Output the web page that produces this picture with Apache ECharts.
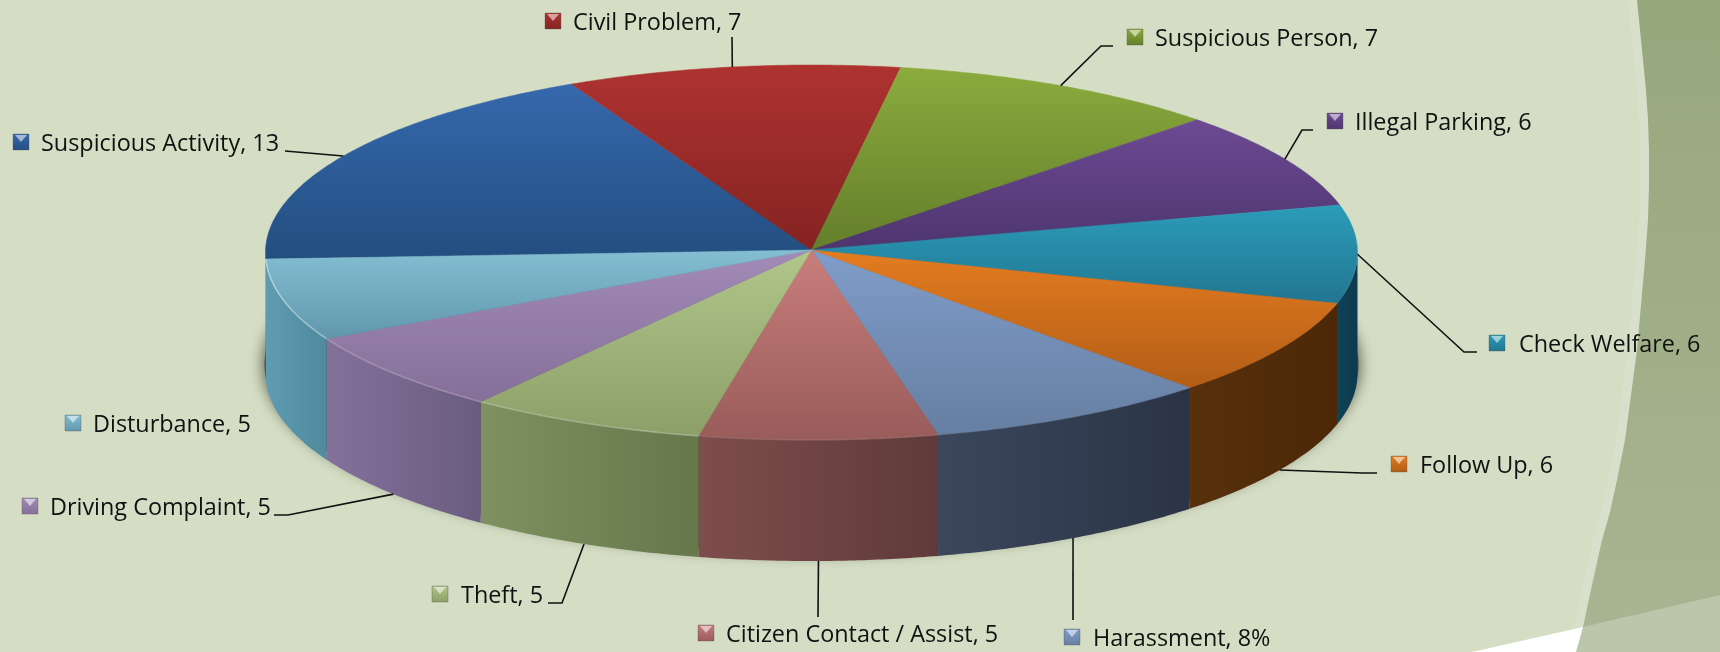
<!DOCTYPE html>
<html>
<head>
<meta charset="utf-8">
<title>Calls by type</title>
<script src="https://cdn.jsdelivr.net/npm/echarts@6/dist/echarts.min.js"></script>
<style>
  html, body { margin: 0; padding: 0; background: #d5dec5; }
  #chart { width: 1720px; height: 652px; }
</style>
</head>
<body>
<div id="chart"></div>
<script>
// data, clockwise from the left edge of the pie
const names = ['Suspicious Activity', 'Civil Problem', 'Suspicious Person', 'Illegal Parking', 'Check Welfare', 'Follow Up', 'Harassment', 'Citizen Contact / Assist', 'Theft', 'Driving Complaint', 'Disturbance']
const values = [13, 7, 7, 6, 6, 6, 6, 5, 5, 5, 5]
const valueLabels = ['13', '7', '7', '6', '6', '6', '8%', '5', '5', '5', '5']

// colours per slice
const topLight = ['#3568ad', '#ae3331', '#8bab3d', '#6d4a93', '#2b9cba', '#e47c20', '#809dca', '#c97d7b', '#b0c68a', '#a28bb6', '#84bed3']
const topDark = ['#234e80', '#842321', '#647e2b', '#4d356f', '#227690', '#b25d16', '#667ea1', '#985c5a', '#8c9f68', '#85709a', '#6197ad']
const sideLight = ['#2d5a8c', '#7a2422', '#5a7324', '#46306a', '#0f4258', '#58300c', '#3b475c', '#7e4d4d', '#7f9160', '#84719a', '#5f9cb2']
const sideDark = ['#2d5a8c', '#7a2422', '#5a7324', '#46306a', '#0e3a4d', '#4c2807', '#2b3446', '#603a3a', '#66784a', '#6a5c80', '#4f8a9e']
const rimAlpha = [0, 0, 0, 0, 0, 0, 0, 0.08, 0.25, 0.22, 0.4]

// label placement: key left, key top, text left
const keyX = [13, 545, 1127, 1327, 1489, 1391, 1064, 698, 432, 22, 65]
const keyY = [134, 13, 29, 113, 335, 456, 629, 625, 586, 498, 415]
const textX = [41, 573, 1155, 1355, 1519, 1420, 1093, 726, 461, 50, 93]
// leader line after its anchor on the pie
const leaders = [
  [[285, 151]],
  [[732, 37]],
  [[1101, 46], [1113, 46]],
  [[1302, 130], [1313, 130]],
  [[1464, 352], [1477, 352]],
  [[1362, 473], [1377, 473]],
  [[1073, 620]],
  [[818, 617]],
  [[562, 603], [548, 603]],
  [[288, 515], [274, 515]],
  []
]

// edge of the dark band on the right of the page
const bandEdge = [[1637, 0], [1640, 30], [1643, 60], [1646, 90], [1648, 120], [1649, 150], [1649, 185], [1648, 220], [1645, 260], [1641, 305], [1637, 350], [1631, 395], [1625, 440], [1617, 480], [1610, 512], [1602, 540], [1592, 585], [1583, 627], [1576, 652]]

const cx = 811.5
const cy = 252.5
const apexY = 250
const rx = 546
const ry = 187.5
const depth = 121
const startAngle = 182
const total = values.reduce((a, b) => a + b, 0)

// angle of the start of each slice, going clockwise
const sliceStart = []
values.reduce((a, v, i) => {
  sliceStart[i] = a
  return a - v / total * 360
}, startAngle)

const rimPoint = (deg, dy) => {
  const r = deg * Math.PI / 180
  return [cx + rx * Math.cos(r), cy - ry * Math.sin(r) + (dy || 0)]
}

const arcPoints = (from, to, dy) => {
  const pts = []
  const steps = Math.max(2, Math.ceil(Math.abs(from - to) * 2))
  for (let s = 0; s <= steps; s++) pts.push(rimPoint(from + (to - from) * s / steps, dy))
  return pts
}

// part of a slice that faces the viewer
const frontRange = (i) => {
  const from = sliceStart[i]
  const to = from - values[i] / total * 360
  if (to >= 180) return [from, to]
  if (from > 180) return [from, 180]
  if (from > 0 && to < 0) return [0, to]
  if (to >= 0) return null
  return [from, to]
}

const vGrad = (a, b) => new echarts.graphic.LinearGradient(0, 0, 0, 1, [{ offset: 0, color: a }, { offset: 1, color: b }])
const hGrad = (a, b) => new echarts.graphic.LinearGradient(0, 0, 1, 0, [{ offset: 0, color: a }, { offset: 1, color: b }])

const renderSide = (params, api) => {
  const i = params.dataIndex
  const range = frontRange(i)
  if (!range) return { type: 'group', children: [] }
  const pts = arcPoints(range[0], range[1], 0).concat(arcPoints(range[1], range[0], depth))
  return {
    type: 'polygon',
    shape: { points: pts },
    style: { fill: hGrad(sideLight[i], sideDark[i]) }
  }
}

const renderTop = (params, api) => {
  const i = params.dataIndex
  const from = sliceStart[i]
  const to = from - api.value(0) / total * 360
  const grad = vGrad(topLight[i], topDark[i])
  const children = [{
    type: 'polygon',
    shape: { points: [[cx, apexY]].concat(arcPoints(from, to, 0)) },
    style: { fill: grad, stroke: grad, lineWidth: 0.5 }
  }]
  const range = frontRange(i)
  if (range && rimAlpha[i] > 0) {
    children.push({
      type: 'polyline',
      shape: { points: arcPoints(range[0], range[1], 0) },
      style: { fill: null, stroke: 'rgba(255,255,255,' + rimAlpha[i] + ')', lineWidth: 1.6 }
    })
  }
  return { type: 'group', children }
}

const renderLabel = (params, api) => {
  const i = params.dataIndex
  const mid = sliceStart[i] - api.value(0) / total * 180
  const front = Math.sin(mid * Math.PI / 180) < -0.1
  const children = []
  if (leaders[i].length) {
    children.push({
      type: 'polyline',
      shape: { points: [rimPoint(mid, front ? depth : 0)].concat(leaders[i]) },
      style: { fill: null, stroke: '#111', lineWidth: 1.6 }
    })
  }
  const kx = keyX[i]
  const ky = keyY[i]
  children.push({
    type: 'rect',
    shape: { x: kx, y: ky, width: 16, height: 16 },
    style: { fill: vGrad(topLight[i], topDark[i]), stroke: 'rgba(80,80,80,0.35)', lineWidth: 1 }
  })
  children.push({
    type: 'polygon',
    shape: { points: [[kx + 2, ky + 1], [kx + 14, ky + 1], [kx + 8, ky + 8]] },
    style: { fill: 'rgba(255,255,255,0.55)' }
  })
  children.push({
    type: 'text',
    style: {
      x: textX[i],
      y: ky + 10,
      text: names[i] + ', ' + valueLabels[i],
      fill: '#111',
      font: '23.4px "Open Sans"',
      textAlign: 'left',
      textVerticalAlign: 'middle'
    }
  })
  return { type: 'group', children }
}

const chart = echarts.init(document.getElementById('chart'), null, { renderer: 'canvas' })
chart.setOption({
  animation: false,
  backgroundColor: '#d5dec5',
  graphic: [
    // page decoration on the right
    {
      type: 'polygon', z: 0, silent: true,
      shape: { points: bandEdge.map(p => [p[0] - 9, p[1]]).concat([[1660, 652], [1660, 0]]) },
      style: { fill: '#d8e0cb' }
    },
    {
      type: 'polygon', z: 0, silent: true,
      shape: { points: bandEdge.concat([[1720, 652], [1720, 0]]) },
      style: { fill: new echarts.graphic.LinearGradient(0, 0, 0, 1, [{ offset: 0, color: '#97a77c' }, { offset: 1, color: '#a9b593' }]) }
    },
    {
      type: 'polygon', z: 0, silent: true,
      shape: { points: [[1583, 627], [1720, 595], [1720, 652], [1576, 652]] },
      style: { fill: '#bcc6ab' }
    },
    {
      type: 'polygon', z: 0, silent: true,
      shape: { points: [[1583, 627], [1576, 652], [1472, 652]] },
      style: { fill: '#ffffff' }
    },
    // soft shadow under the pie
    {
      type: 'ellipse', z: 1, silent: true,
      shape: { cx: cx, cy: cy + depth - 9, rx: rx + 1, ry: ry },
      style: { fill: '#4a4a38', shadowColor: 'rgba(50,50,35,0.9)', shadowBlur: 16 }
    }
  ],
  series: [
    { type: 'custom', coordinateSystem: 'none', silent: true, z: 2, data: values, renderItem: renderSide },
    { type: 'custom', coordinateSystem: 'none', silent: true, z: 3, data: values, renderItem: renderTop },
    { type: 'custom', coordinateSystem: 'none', silent: true, z: 4, data: values, renderItem: renderLabel }
  ]
})
</script>
</body>
</html>
